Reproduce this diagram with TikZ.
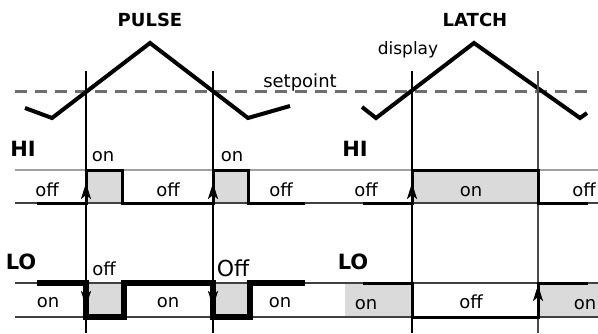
\documentclass[tikz,border=0pt]{standalone}
\usepackage{fontspec}
\setmainfont{DejaVu Sans}
\usetikzlibrary{arrows.meta}
\definecolor{ongray}{RGB}{218,218,218}
\definecolor{rail}{RGB}{160,160,160}
\definecolor{setgray}{RGB}{110,110,110}

\begin{document}
\begin{tikzpicture}[x=0.5pt,y=-0.5pt,font=\fontsize{9}{10}\selectfont,>={Stealth[length=8pt,width=5pt,inset=2pt]},line join=miter,
title/.style={font=\fontsize{9}{10}\selectfont\bfseries,inner sep=0pt},
rowname/.style={font=\fontsize{10.5}{12}\selectfont\bfseries,inner sep=0pt},
state/.style={inner sep=0pt},
signal/.style={line width=1.5pt},
heavy/.style={line width=2.6pt},
ramp/.style={line width=2pt},
marker/.style={line width=0.6pt},
pointer/.style={line width=1.2pt,->},
guide/.style={draw=rail,line width=0.6pt}]
\useasboundingbox (0,0) rectangle (598,333);
% shaded on-times
\foreach \a/\b/\t/\u in {86/122/170/203,213/248/170/203,412/538/170/203,86/124/283/317,213/250/283/317,345/412/283/317,538/598/283/317}{\fill[ongray] (\a,\t) rectangle (\b,\u);}
% rails
\draw[guide] (15,170) -- (598,170);
\foreach \y in {203,283,317}{\draw[black!75,line width=0.6pt] (15,\y) -- (598,\y);}
% setpoint and process value
\draw[setgray,line width=1.5pt,dash pattern=on 6pt off 4pt] (15,91) -- (592,91);
\node[state] (setpoint) at (300,83) {setpoint};
\node[state,font=\fontsize{8.5}{10}\selectfont] (display) at (408,50) {display};
\draw[ramp] (25,108) -- (52,118) -- (150,43) -- (248,118) -- (290,106);
\draw[ramp] (362,107) -- (376,118) -- (474,43) -- (580,118) -- (587,113);
% crossing markers
\foreach \x in {86,213,412}{\draw[marker] (\x,71) -- (\x,333);}
\draw[marker,black!70] (538,71) -- (538,333);
% outputs
\draw[signal] (37,203) -- (86,203) -- (86,170) -- (122,170) -- (122,203) -- (213,203) -- (213,170) -- (248,170) -- (248,203) -- (305,203);
\draw[signal] (363,203) -- (412,203) -- (412,170) -- (538,170) -- (538,203) -- (588,203);
\draw[heavy] (37,283) -- (86,283) -- (86,317) -- (124,317) -- (124,283) -- (213,283) -- (213,317) -- (250,317) -- (250,283) -- (305,283);
\draw[signal] (363,283) -- (412,283) -- (412,317) -- (538,317) -- (538,283) -- (588,283);
\foreach \x in {86,213,412}{\draw[pointer] (\x,203) -- (\x,183);}
\foreach \x in {86,213}{\draw[pointer] (\x,283) -- (\x,307);}
\draw[pointer] (538,317) -- (538,285);
% titles
\node[title] (pulse) at (150,20) {PULSE};
\node[title] (latch) at (475,20) {LATCH};
\node[rowname] (hiP) at (23,149) {HI};
\node[rowname] (hiL) at (355,149) {HI};
\node[rowname] (loP) at (21,262) {LO};
\node[rowname] (loL) at (353,262) {LO};
% states
\node[state] (on1) at (103,157) {on};
\node[state] (on2) at (232,157) {on};
\node[state] (off1) at (47,190) {off};
\node[state] (off2) at (168,190) {off};
\node[state] (off3) at (281,190) {off};
\node[state] (off4) at (366,190) {off};
\node[state] (on3) at (471,192) {on};
\node[state] (off5) at (584,190) {off};
\node[state] (off6) at (104,269) {off};
\node[state,font=\fontsize{11}{12}\selectfont] (off7) at (233,268) {Off};
\node[state] (on4) at (48,303) {on};
\node[state] (on5) at (168,303) {on};
\node[state] (on6) at (280,303) {on};
\node[state] (on7) at (366,305) {on};
\node[state] (off8) at (471,302) {off};
\node[state] (on8) at (585,305) {on};
\end{tikzpicture}
\end{document}
